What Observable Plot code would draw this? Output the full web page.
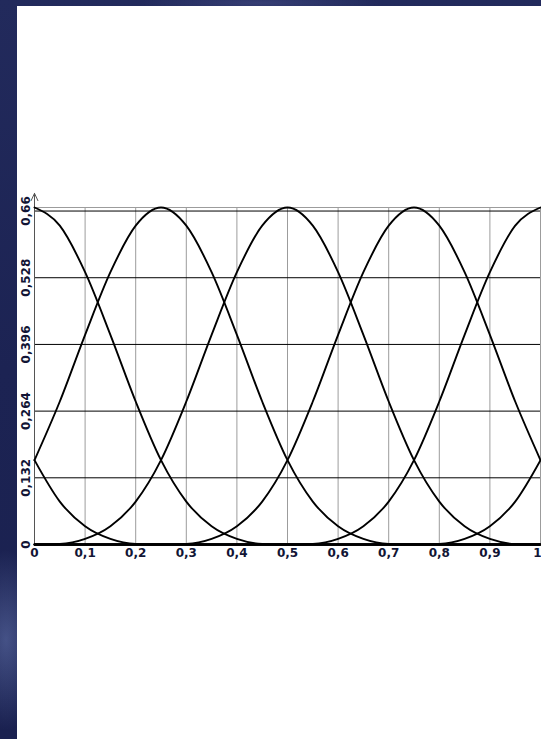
<!DOCTYPE html>
<html>
<head>
<meta charset="utf-8">
<script src="https://cdn.jsdelivr.net/npm/d3@7"></script>
<script src="https://cdn.jsdelivr.net/npm/@observablehq/plot@0.6"></script>
<style>
  html, body { margin: 0; padding: 0; }
  body {
    width: 541px; height: 739px; overflow: hidden; position: relative;
    background:
      radial-gradient(ellipse 40px 90px at 6px 640px, rgba(120,140,200,0.45), rgba(120,140,200,0) 100%),
      radial-gradient(ellipse 120px 10px at 260px 3px, rgba(90,100,160,0.35), rgba(90,100,160,0) 100%),
      linear-gradient(180deg, #222a5c 0%, #1c2353 50%, #1a2150 100%);
  }
  #panel {
    position: absolute; left: 17px; top: 6px; width: 524px; height: 733px;
    background: #fff;
  }
  #panel svg { position: absolute; left: 0; top: 0; }
</style>
</head>
<body>
<div id="panel"></div>
<script>
// Sample positions along the horizontal axis
const xValues = [0, 0.05, 0.1, 0.15, 0.2, 0.25, 0.3, 0.35, 0.4, 0.45, 0.5,
                 0.55, 0.6, 0.65, 0.7, 0.75, 0.8, 0.85, 0.9, 0.95, 1];

// Seven bell-shaped basis curves, named by where each one peaks
const peakAtMinus025 = [0.167, 0.085, 0.036, 0.011, 0.001, 0, 0, 0, 0, 0, 0,
                        0, 0, 0, 0, 0, 0, 0, 0, 0, 0];
const peakAt0        = [0.667, 0.631, 0.539, 0.415, 0.283, 0.167, 0.085, 0.036, 0.011, 0.001, 0,
                        0, 0, 0, 0, 0, 0, 0, 0, 0, 0];
const peakAt025      = [0.167, 0.283, 0.415, 0.539, 0.631, 0.667, 0.631, 0.539, 0.415, 0.283, 0.167,
                        0.085, 0.036, 0.011, 0.001, 0, 0, 0, 0, 0, 0];
const peakAt05       = [0, 0.001, 0.011, 0.036, 0.085, 0.167, 0.283, 0.415, 0.539, 0.631, 0.667,
                        0.631, 0.539, 0.415, 0.283, 0.167, 0.085, 0.036, 0.011, 0.001, 0];
const peakAt075      = [0, 0, 0, 0, 0, 0, 0.001, 0.011, 0.036, 0.085, 0.167,
                        0.283, 0.415, 0.539, 0.631, 0.667, 0.631, 0.539, 0.415, 0.283, 0.167];
const peakAt1        = [0, 0, 0, 0, 0, 0, 0, 0, 0, 0, 0,
                        0.001, 0.011, 0.036, 0.085, 0.167, 0.283, 0.415, 0.539, 0.631, 0.667];
const peakAt125      = [0, 0, 0, 0, 0, 0, 0, 0, 0, 0, 0,
                        0, 0, 0, 0, 0, 0.001, 0.011, 0.036, 0.085, 0.167];

// Axis ticks and their labels (decimal comma)
const xTicks = [0, 0.1, 0.2, 0.3, 0.4, 0.5, 0.6, 0.7, 0.8, 0.9, 1];
const xTickLabels = ["0", "0,1", "0,2", "0,3", "0,4", "0,5", "0,6", "0,7", "0,8", "0,9", "1"];
const yTicks = [0, 0.132, 0.264, 0.396, 0.528, 0.66];
const yTickLabels = ["0", "0,132", "0,264", "0,396", "0,528", "0,66"];
const yTop = 0.667;      // upper end of the value range
const arrowTip = 0.695;  // tip of the arrow on the vertical axis

const seriesList = [
  ["peakAtMinus025", peakAtMinus025],
  ["peakAt0", peakAt0],
  ["peakAt025", peakAt025],
  ["peakAt05", peakAt05],
  ["peakAt075", peakAt075],
  ["peakAt1", peakAt1],
  ["peakAt125", peakAt125]
];
const rows = seriesList.flatMap(([name, values]) =>
  xValues.map((x, i) => ({series: name, x, y: values[i]})));

const xLabelRows = xTicks.map((t, i) => ({x: t, label: xTickLabels[i]}));
const yLabelRows = yTicks.map((t, i) => ({y: t, label: yTickLabels[i]}));
const lastX = xLabelRows.length - 1;

const labelColor = "#121535";

const chart = Plot.plot({
  width: 524,
  height: 562,
  marginLeft: 17,
  marginRight: 1,
  marginTop: 201,
  marginBottom: 24,
  x: {domain: [0, 1], axis: null},
  y: {domain: [0, yTop], axis: null},
  style: {
    background: "transparent",
    fontFamily: "'DejaVu Sans', Verdana, sans-serif",
    fontSize: "12px",
    fontWeight: "bold",
    color: labelColor,
    overflow: "visible"
  },
  marks: [
    // vertical grid
    Plot.ruleX(xTicks, {y1: 0, y2: yTop, stroke: "#9c9c9c", strokeWidth: 1}),
    // top edge of the grid
    Plot.ruleY([yTop], {stroke: "#9c9c9c", strokeWidth: 1}),
    // horizontal grid
    Plot.ruleY(yTicks.filter(t => t > 0), {stroke: "#000", strokeWidth: 1}),
    // vertical axis with arrow
    Plot.arrow([{x: 0, y1: 0, y2: arrowTip}], {
      x1: "x", x2: "x", y1: "y1", y2: "y2",
      stroke: "#555", strokeWidth: 1, headLength: 12, headAngle: 50
    }),
    // basis curves
    Plot.line(rows, {
      x: "x", y: "y", z: "series",
      curve: "monotone-x", stroke: "#000", strokeWidth: 1.9
    }),
    // horizontal axis line
    Plot.ruleY([0], {stroke: "#000", strokeWidth: 2.5}),
    // horizontal axis labels; the last one is kept inside the right edge
    Plot.text(xLabelRows.slice(0, lastX), {
      x: "x", frameAnchor: "bottom", text: "label",
      lineAnchor: "top", dy: 4, fill: labelColor, fontWeight: "bold"
    }),
    Plot.text(xLabelRows.slice(lastX), {
      x: "x", frameAnchor: "bottom", text: "label", textAnchor: "end",
      lineAnchor: "top", dy: 4, dx: 1, fill: labelColor, fontWeight: "bold"
    }),
    // vertical axis labels, turned to read upward
    Plot.text(yLabelRows, {
      frameAnchor: "left", textAnchor: "middle", lineAnchor: "middle",
      y: "y", text: "label",
      rotate: -90, dx: -8, fill: labelColor, fontWeight: "bold"
    })
  ]
});

document.getElementById("panel").appendChild(chart);
</script>
</body>
</html>
